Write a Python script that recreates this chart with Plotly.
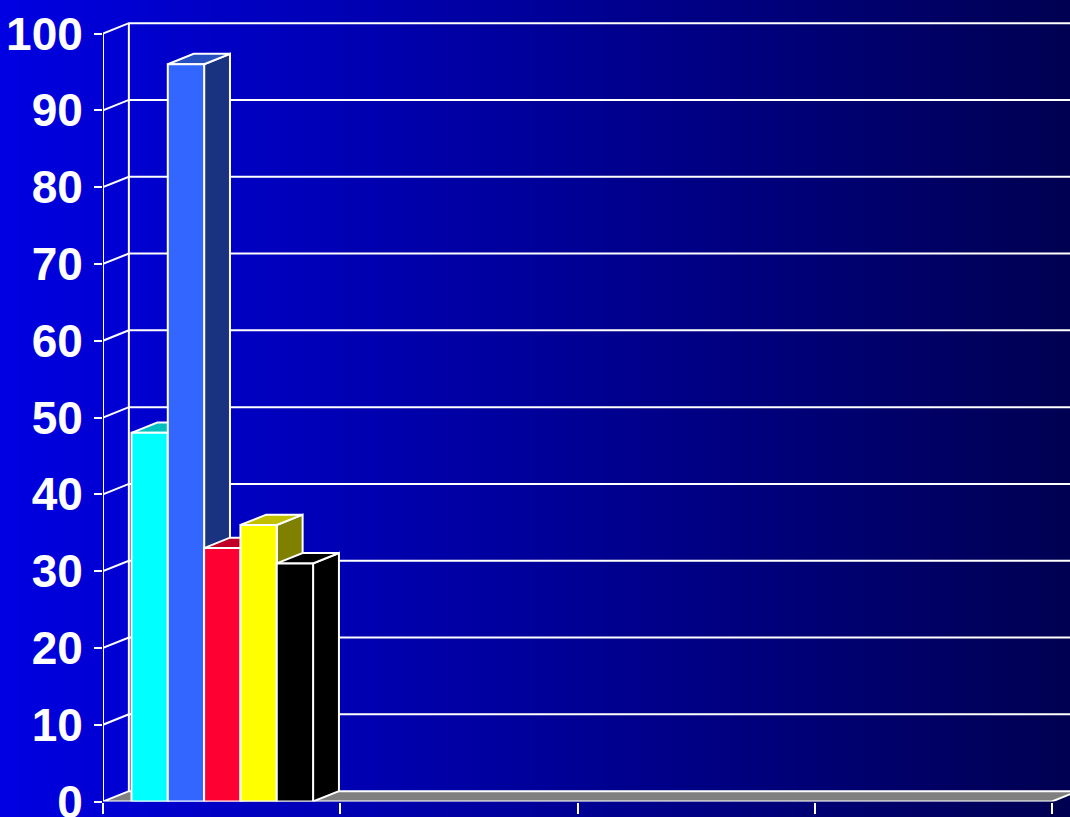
import base64
import struct
import zlib

import plotly.graph_objects as go

# ---------------- data ----------------
categories = ["", "", "", ""]
series_names = ["Series 1", "Series 2", "Series 3", "Series 4", "Series 5"]
series_values = [48, 96, 33, 36, 31]
front_colors = ["#00FFFF", "#3366FF", "#FF0033", "#FFFF00", "#000000"]
top_colors = ["#00BFBF", "#2650C0", "#C00026", "#C0C000", "#000000"]
side_colors = ["#007F7F", "#1A3380", "#80001A", "#808000", "#000000"]
y_ticks = [0, 10, 20, 30, 40, 50, 60, 70, 80, 90, 100]

# ---------------- geometry / style ----------------
W, H = 1070, 817
X_LEFT_PX, X_STEP_PX = 103, 237.25      # front plane: category pitch
Y_ZERO_PX, Y_PX_PER_UNIT = 801.5, 7.68
DX, DY = 0.109, 1.35                     # 3-D depth offset (data units)
BAR_W, GROUP_START = 0.1531, -0.38
LINE = dict(color="white", width=2)

x_range = [-0.5, -0.5 + (W - X_LEFT_PX) / X_STEP_PX]
y_range = [0, Y_ZERO_PX / Y_PX_PER_UNIT]
x_far = x_range[1] + 1


def gradient_png(width, c0, c1):
    raw = b"\x00"
    for i in range(width):
        t = i / (width - 1)
        raw += bytes(int(round(a + (b - a) * t)) for a, b in zip(c0, c1))

    def chunk(tag, data):
        return (struct.pack(">I", len(data)) + tag + data +
                struct.pack(">I", zlib.crc32(tag + data) & 0xFFFFFFFF))

    png = b"\x89PNG\r\n\x1a\n"
    png += chunk(b"IHDR", struct.pack(">IIBBBBB", width, 1, 8, 2, 0, 0, 0))
    png += chunk(b"IDAT", zlib.compress(raw))
    png += chunk(b"IEND", b"")
    return "data:image/png;base64," + base64.b64encode(png).decode()


fig = go.Figure()

n_cat = len(categories)
x_front_end = -0.5 + n_cat

# floor
fig.add_trace(go.Scatter(
    x=[-0.5, x_front_end, x_front_end + DX, -0.5 + DX, -0.5],
    y=[0, 0, DY, DY, 0], mode="lines", fill="toself",
    fillcolor="#808080", line=LINE, hoverinfo="skip", showlegend=False))

# walls: gridlines on side wall + back wall
for v in y_ticks[1:]:
    fig.add_trace(go.Scatter(
        x=[-0.5, -0.5 + DX, x_far], y=[v, v + DY, v + DY],
        mode="lines", line=LINE, hoverinfo="skip", showlegend=False))
fig.add_trace(go.Scatter(
    x=[-0.5 + DX, -0.5 + DX], y=[DY, y_ticks[-1] + DY],
    mode="lines", line=LINE, hoverinfo="skip", showlegend=False))
# front value axis
fig.add_trace(go.Scatter(
    x=[-0.5, -0.5], y=[0, y_ticks[-1]],
    mode="lines", line=LINE, hoverinfo="skip", showlegend=False))

# 3-D bars (first category)
for i, (name, v) in enumerate(zip(series_names, series_values)):
    x0 = GROUP_START + i * BAR_W
    x1 = x0 + BAR_W
    # side
    fig.add_trace(go.Scatter(
        x=[x1, x1, x1 + DX, x1 + DX, x1], y=[0, v, v + DY, DY, 0],
        mode="lines", fill="toself", fillcolor=side_colors[i], line=LINE,
        hoverinfo="skip", showlegend=False))
    # top
    fig.add_trace(go.Scatter(
        x=[x0, x0 + DX, x1 + DX, x1, x0], y=[v, v + DY, v + DY, v, v],
        mode="lines", fill="toself", fillcolor=top_colors[i], line=LINE,
        hoverinfo="skip", showlegend=False))
    # front
    fig.add_trace(go.Scatter(
        x=[x0, x0, x1, x1, x0], y=[0, v, v, 0, 0],
        mode="lines", fill="toself", fillcolor=front_colors[i], line=LINE,
        name=name, hoverinfo="name+y", showlegend=False))

fig.update_layout(
    width=W, height=H,
    margin=dict(l=0, r=0, t=0, b=0, autoexpand=False),
    paper_bgcolor="#000080",
    plot_bgcolor="rgba(0,0,0,0)",
    showlegend=False,
    images=[dict(source=gradient_png(535, (0, 0, 0xE2), (0, 0, 0x52)),
                 xref="paper", yref="paper", x=0, y=1, sizex=1, sizey=1,
                 xanchor="left", yanchor="top", sizing="stretch",
                 layer="below")],
    xaxis=dict(domain=[X_LEFT_PX / W, 1], range=x_range, automargin=False,
               showgrid=False, zeroline=False, showline=False,
               tickmode="array",
               tickvals=[-0.5 + k for k in range(n_cat + 1)],
               ticks="outside", ticklen=11, tickwidth=2, tickcolor="white",
               showticklabels=False, fixedrange=True),
    yaxis=dict(domain=[(H - Y_ZERO_PX) / H, 1], range=y_range, automargin=False,
               showgrid=False, zeroline=False, showline=False,
               tickmode="array", tickvals=y_ticks,
               ticktext=[str(t) for t in y_ticks],
               ticks="outside", ticklen=8, tickwidth=2, tickcolor="white",
               ticklabelstandoff=2, ticklabeloverflow="allow",
               tickfont=dict(family="Liberation Sans, Arial",
                             size=46, color="white", weight="bold"),
               fixedrange=True),
)

fig.write_html(
    "out.html",
    config={"displayModeBar": False},
    post_script="document.body.style.margin='0';document.body.style.overflow='hidden';",
)
